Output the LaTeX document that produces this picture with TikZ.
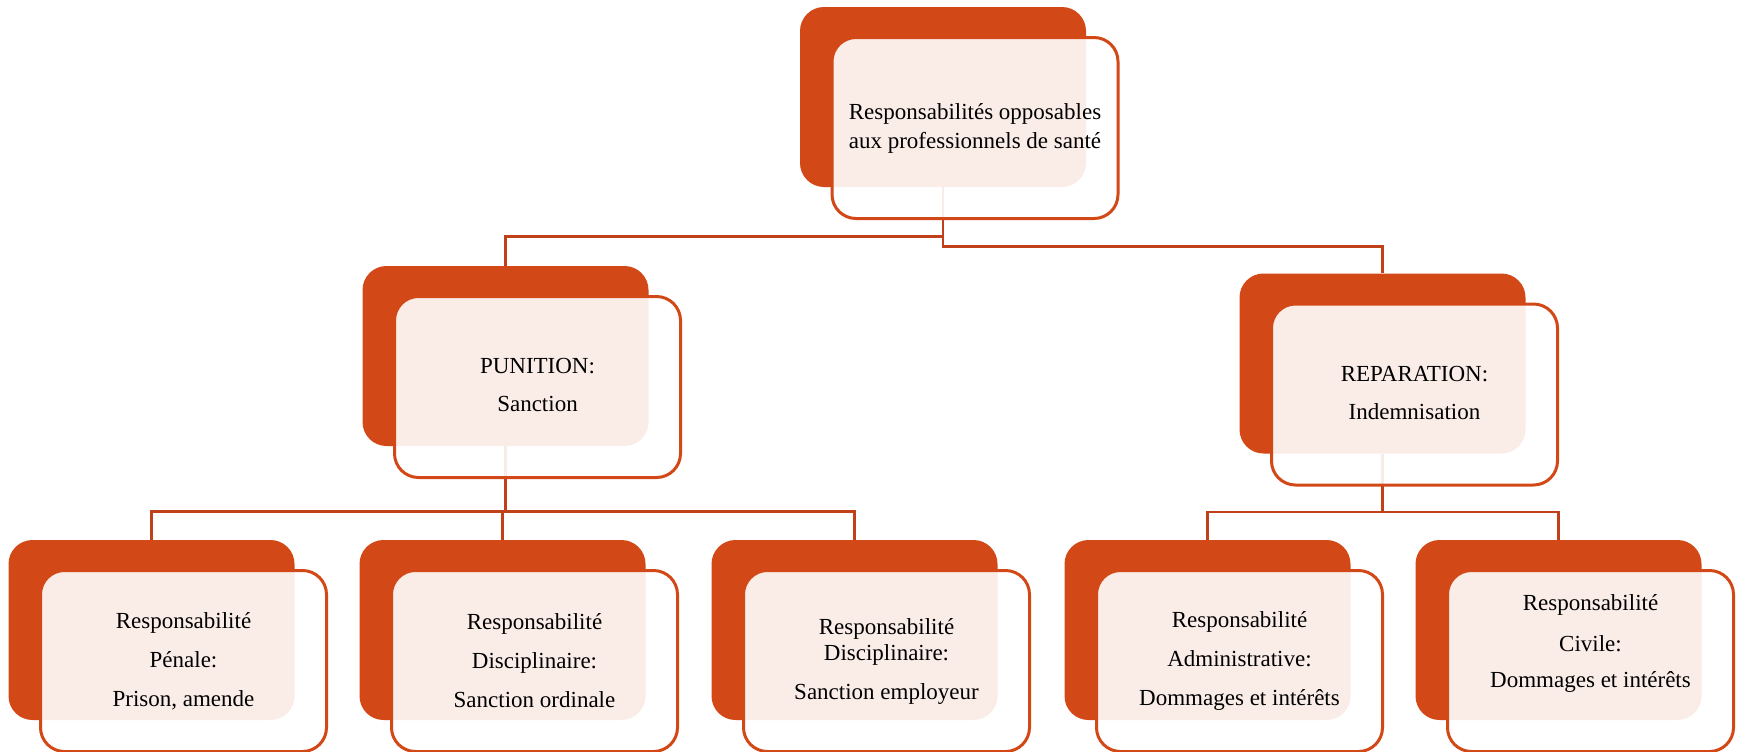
\documentclass[tikz,border=0pt]{standalone}
\usepackage{fontspec}
\setmainfont{Liberation Serif}
\definecolor{rouille}{RGB}{211,72,23}
\definecolor{trait}{RGB}{192,64,26}
\begin{document}
\begin{tikzpicture}[x=0.5pt,y=-0.5pt,
    back/.style={fill=rouille,rounded corners=12pt,inner sep=0pt,
      minimum width=143pt,minimum height=90pt},
    front/.style={draw=rouille,line width=1.5pt,fill=white,fill opacity=0.9,
      rounded corners=12pt,inner sep=0pt,minimum width=143pt,minimum height=90.5pt},
    txt/.style={align=center,inner sep=0pt,font=\fontsize{11.5}{13}\selectfont},
    link/.style={draw=trait,line width=1.4pt}]
  \useasboundingbox (0,0) rectangle (1739,751);
  % dark boxes
  \node[back] (top) at (943,97) {};
  \node[back] (pun) at (505.5,356) {};
  \node[back] (rep) at (1382.5,363.5) {};
  \node[back] (pen) at (151.5,630) {};
  \node[back] (dis) at (502.5,630) {};
  \node[back] (emp) at (854.5,630) {};
  \node[back] (adm) at (1207.5,630) {};
  \node[back] (civ) at (1558.5,630) {};
  % connectors
  \draw[link] (top.south) -- ++(0,49) -| (pun.north);
  \draw[link] (top.south) -- ++(0,59) -| (rep.north);
  \draw[link] (pun.south) -- ++(0,65) -| (pen.north);
  \draw[link] (pun.south) -- ++(0,65) -| (dis.north);
  \draw[link] (pun.south) -- ++(0,65) -| (emp.north);
  \draw[link] (rep.south) -- ++(0,58) -| (adm.north);
  \draw[link] (rep.south) -- ++(0,58) -| (civ.north);
  % light boxes
  \node[front] (ftop) at ([shift={(32,31)}]top.center) {};
  \node[front] (fpun) at ([shift={(32,31)}]pun.center) {};
  \node[front] (frep) at ([shift={(32,31)}]rep.center) {};
  \node[front] (fpen) at ([shift={(32,31)}]pen.center) {};
  \node[front] (fdis) at ([shift={(32,31)}]dis.center) {};
  \node[front] (femp) at ([shift={(32,31)}]emp.center) {};
  \node[front] (fadm) at ([shift={(32,31)}]adm.center) {};
  \node[front] (fciv) at ([shift={(32,31)}]civ.center) {};
  % texts
  \node[txt] (ttop) at (ftop) {Responsabilités opposables\\[1.5pt]aux professionnels de santé};
  \node[txt] (tpun) at ([shift={(0,-2)}]fpun.center) {PUNITION:\\[6pt]Sanction};
  \node[txt] (trep) at ([shift={(0,-2)}]frep.center) {REPARATION:\\[6pt]Indemnisation};
  \node[txt] (tpen) at (fpen) {Responsabilité\\[6.5pt]Pénale:\\[6.5pt]Prison, amende};
  \node[txt] (tdis) at (fdis) {Responsabilité\\[6.5pt]Disciplinaire:\\[6.5pt]Sanction ordinale};
  \node[txt] (temp) at (femp) {Responsabilité\\Disciplinaire:\\[6.5pt]Sanction employeur};
  \node[txt] (tadm) at (fadm) {Responsabilité\\[6.5pt]Administrative:\\[6.5pt]Dommages et intérêts};
  \node[txt] (tciv) at ([shift={(0,-18)}]fciv.center) {Responsabilité\\[7.5pt]Civile:\\[5pt]Dommages et intérêts};
\end{tikzpicture}
\end{document}
